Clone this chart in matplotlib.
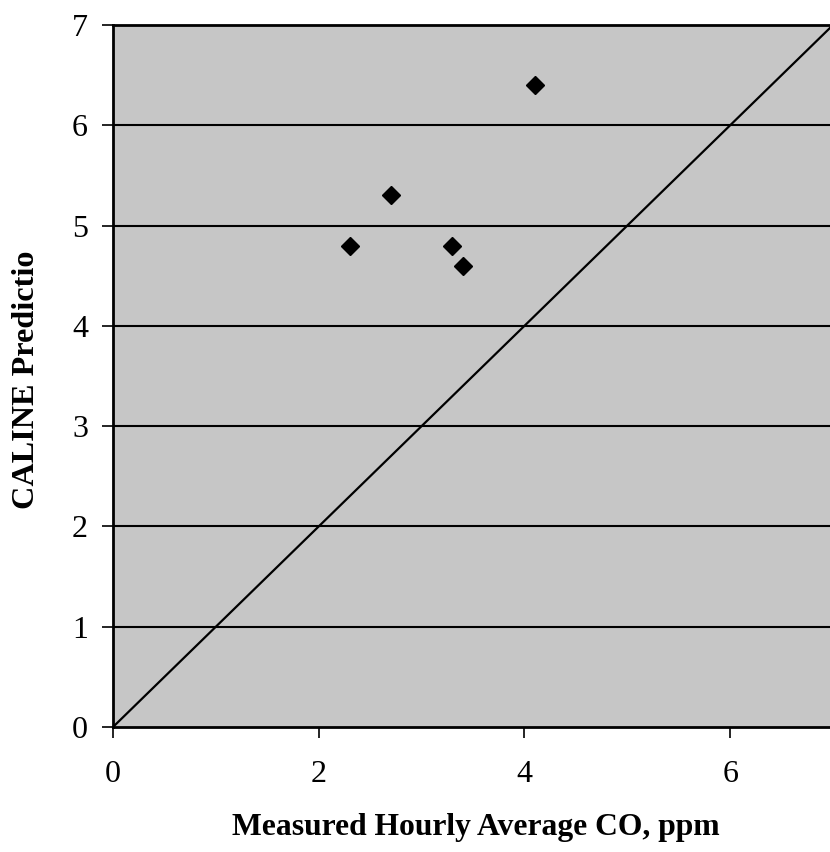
import matplotlib
matplotlib.use("Agg")
import matplotlib.pyplot as plt

measured = [2.3, 2.7, 3.3, 3.4, 4.1]
predicted = [4.8, 5.3, 4.8, 4.6, 6.4]
line_x = [0, 7]
line_y = [0, 7]
xticks = [0, 2, 4, 6]
yticks = [0, 1, 2, 3, 4, 5, 6, 7]

plt.rcParams['font.family'] = ['Liberation Serif', 'DejaVu Serif']

fig = plt.figure(figsize=(8.30, 8.52), dpi=100)
ax = fig.add_axes([113/830, 125/852, 720/830, 702/852])
ax.set_facecolor('#c6c6c6')
ax.set_xlim(0, 7)
ax.set_ylim(0, 7)

for y in yticks[1:-1]:
    ax.axhline(y, color='black', lw=1.5, zorder=1)

ax.plot(line_x, line_y, color='black', lw=1.6, zorder=2)
ax.plot(measured, predicted, linestyle='none', marker='D', ms=9,
        color='black', zorder=3)

ax.set_xticks(xticks)
ax.set_yticks(yticks)
ax.tick_params(axis='both', labelsize=23, direction='out', length=8, width=1.2, colors='black')
ax.tick_params(axis='x', pad=16)
ax.tick_params(axis='y', pad=10)
for s in ['left', 'bottom', 'top']:
    ax.spines[s].set_linewidth(2)
ax.spines['right'].set_visible(False)

fig.text(27/830, 1 - 380/852, 'CALINE Predictio', rotation=90, fontsize=23.2,
         fontweight='bold', ha='center', va='center')
fig.text(476/830, 1 - 828/852, 'Measured Hourly Average CO, ppm', fontsize=22.8,
         fontweight='bold', ha='center', va='center')

fig.savefig('out.png', dpi=100)
